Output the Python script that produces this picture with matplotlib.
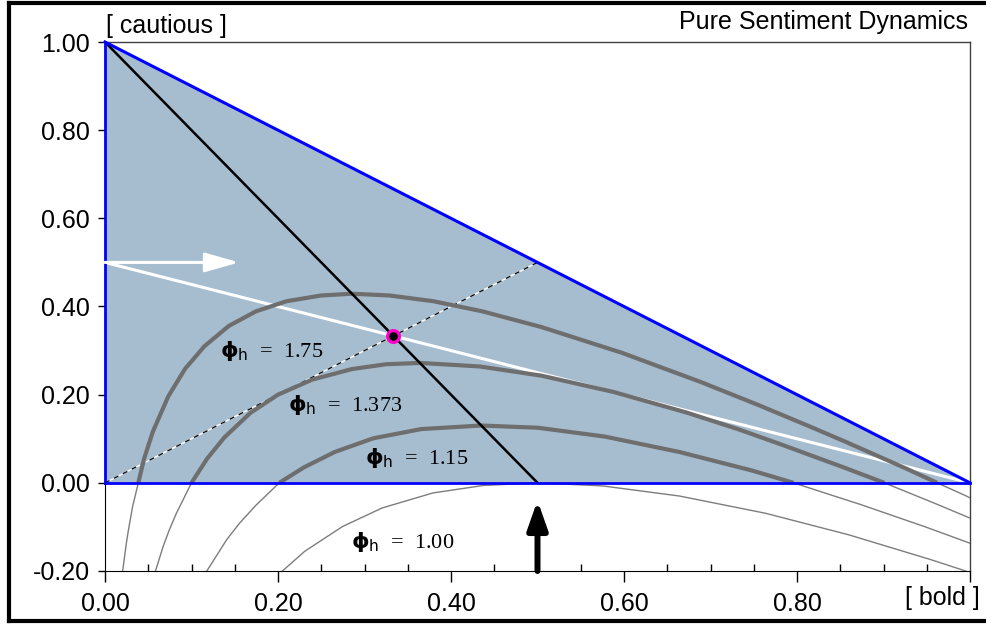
import numpy as np
import matplotlib.pyplot as plt
from matplotlib.lines import Line2D
from matplotlib.ticker import MultipleLocator

plt.rcParams['font.family'] = ['Liberation Sans', 'DejaVu Sans']
plt.rcParams['mathtext.fontset'] = 'dejavusans'

# simplex of shares: x = bold, y = cautious
simplex_x = [0.0, 1.0, 0.0]
simplex_y = [0.0, 0.0, 1.0]

# straight guide lines
black_x = [0.0, 0.5]
black_y = [1.0, 0.0]
white_x = [0.0, 1.0]
white_y = [0.5, 0.0]
diag_x = [0.0, 0.5]
diag_y = [0.0, 0.5]
eq_x, eq_y = 1 / 3, 1 / 3

x_ticks = [0.0, 0.2, 0.4, 0.6, 0.8, 1.0]
x_ticklabels = ['0.00', '0.20', '0.40', '0.60', '0.80', '']
y_ticks = [-0.2, 0.0, 0.2, 0.4, 0.6, 0.8, 1.0]
y_ticklabels = ['-0.20', '0.00', '0.20', '0.40', '0.60', '0.80', '1.00']

# isoclines
c175_x = [0.0204, 0.0247, 0.0270, 0.0319, 0.0385, 0.0451, 0.0553, 0.0731, 0.0927,
          0.1150, 0.1432, 0.1745, 0.2099, 0.2499, 0.2857, 0.3288, 0.3796, 0.4363,
          0.5052, 0.5975, 0.6884, 0.7560, 0.8170, 0.8551, 0.9278, 0.9620, 0.9926, 1.0]
c175_y = [-0.200, -0.137, -0.108, -0.054, 0.000, 0.054, 0.116, 0.196, 0.259,
          0.310, 0.356, 0.389, 0.412, 0.425, 0.429, 0.425, 0.412, 0.389,
          0.353, 0.295, 0.229, 0.176, 0.126, 0.094, 0.031, 0.000, -0.027, -0.034]

c1373_x = [0.0585, 0.0673, 0.0739, 0.0823, 0.1000, 0.1181, 0.1380, 0.1683, 0.2000,
           0.2393, 0.2853, 0.3250, 0.3642, 0.4330, 0.5048, 0.5882, 0.6731, 0.7330,
           0.7775, 0.8540, 0.9010, 0.9636, 1.0]
c1373_y = [-0.199, -0.144, -0.109, -0.070, 0.000, 0.055, 0.103, 0.159, 0.200,
           0.234, 0.258, 0.269, 0.272, 0.264, 0.243, 0.206, 0.159, 0.121,
           0.090, 0.035, 0.000, -0.050, -0.080]

c115_x = [0.1177, 0.1410, 0.1558, 0.1749, 0.2015, 0.2299, 0.2656, 0.3101, 0.3657,
          0.4348, 0.5003, 0.5776, 0.6640, 0.7478, 0.7960, 0.8747, 0.9485, 1.0]
c115_y = [-0.200, -0.128, -0.091, -0.050, 0.000, 0.035, 0.070, 0.101, 0.122,
          0.130, 0.125, 0.105, 0.070, 0.028, 0.000, -0.050, -0.100, -0.137]

c100_x = [0.2051, 0.2311, 0.2747, 0.3204, 0.3790, 0.4373, 0.5000, 0.5754, 0.6643,
          0.7636, 0.8600, 0.9543, 0.9950]
c100_y = [-0.200, -0.155, -0.099, -0.057, -0.023, -0.006, 0.000, -0.007, -0.030,
          -0.069, -0.118, -0.174, -0.200]

curves = [(c175_x, c175_y), (c1373_x, c1373_y), (c115_x, c115_y), (c100_x, c100_y)]
phi_labels = ['1.75', '1.373', '1.15', '1.00']
label_pos = [(0.133, 0.300), (0.212, 0.177), (0.301, 0.057), (0.284, -0.134)]

fill_col = '#a6bdd0'
gray_thick = '#6e6e6e'
gray_thin = '#7d7d7d'

fig = plt.figure(figsize=(9.86, 6.25), dpi=100)
ax = fig.add_axes([105 / 986, 54 / 625, 865 / 986, 529 / 625])
ax.set_xlim(0, 1)
ax.set_ylim(-0.2, 1.0)

ax.fill(simplex_x, simplex_y, color=fill_col, lw=0, zorder=1)

ax.plot(white_x, white_y, color='white', lw=2.2, zorder=2)
ax.plot(diag_x, diag_y, color='white', lw=1.0, zorder=2.5)
ax.plot(diag_x, diag_y, color='black', lw=0.9, dashes=(4, 4), zorder=2.6)

for cx, cy in curves:
    cx = np.array(cx)
    cy = np.array(cy)
    ax.plot(cx, cy, color=gray_thin, lw=1.0, zorder=3)
    ax.plot(cx, np.where(cy >= 0, cy, np.nan), color=gray_thick, lw=3.0,
            solid_capstyle='butt', zorder=3.2)

ax.plot(black_x, black_y, color='black', lw=1.8, zorder=4)

# blue edges of the simplex
ax.plot([simplex_x[2], simplex_x[1]], [simplex_y[2], simplex_y[1]], color='#0000ff',
        lw=2.2, zorder=5, clip_on=False)
ax.plot([simplex_x[0], simplex_x[1]], [simplex_y[0], simplex_y[1]], color='#0000ff',
        lw=2.0, zorder=5, clip_on=False)
ax.plot([simplex_x[0], simplex_x[2]], [simplex_y[0], simplex_y[2]], color='#0000ff',
        lw=2.0, zorder=5, clip_on=False)

# arrows
ax.annotate('', xy=(0.155, 0.5), xytext=(0.0, 0.5),
            arrowprops=dict(arrowstyle='-|>,head_length=1.05,head_width=0.3',
                            mutation_scale=20, color='white', lw=2.2,
                            shrinkA=0, shrinkB=0), zorder=6)
ax.annotate('', xy=(0.5, -0.04), xytext=(0.5, -0.2),
            arrowprops=dict(arrowstyle='-|>,head_length=0.85,head_width=0.3',
                            mutation_scale=20, color='black', lw=4.3,
                            shrinkA=0, shrinkB=0), zorder=6)

ax.plot([eq_x], [eq_y], 'o', ms=8.5, mfc='black', mec='#ff00cc', mew=2.3, zorder=7)

for lab, (lx, ly) in zip(phi_labels, label_pos):
    ax.text(lx, ly, r'$\mathbf{\phi}_{\mathsf{h}}$  =  ' + lab, ha='left', va='center',
            fontsize=16, family='Liberation Serif', zorder=8)

# axes styling
for side in ['top', 'right']:
    ax.spines[side].set_color('#404040')
    ax.spines[side].set_linewidth(1.0)
ax.spines['bottom'].set_color('black')
ax.spines['left'].set_color('black')

ax.set_xticks(x_ticks)
ax.set_xticklabels(x_ticklabels)
ax.set_yticks(y_ticks)
ax.set_yticklabels(y_ticklabels)
ax.xaxis.set_minor_locator(MultipleLocator(0.05))
ax.tick_params(axis='x', which='major', direction='out', length=8, width=1, pad=7,
               labelsize=18)
ax.tick_params(axis='x', which='minor', direction='in', length=5, width=1)
ax.tick_params(axis='y', which='major', direction='out', length=5, width=1, pad=6,
               labelsize=18)

fig.text(968 / 986, 1 - 29.5 / 625, 'Pure Sentiment Dynamics', ha='right',
         va='baseline', fontsize=18)
fig.text(106 / 986, 1 - 33 / 625, '[ cautious ]', ha='left', va='baseline', fontsize=18)
fig.text(980 / 986, 1 - 605 / 625, '[ bold ]', ha='right', va='baseline', fontsize=18)

# outer frame
fig.add_artist(Line2D([0.0092, 0.0092], [0.0072, 0.9947], color='black', lw=3))
fig.add_artist(Line2D([0.0092, 1.0], [0.9947, 0.9947], color='black', lw=3))
fig.add_artist(Line2D([0.0092, 1.0], [0.0072, 0.0072], color='black', lw=3))

fig.savefig('out.png', dpi=100)
